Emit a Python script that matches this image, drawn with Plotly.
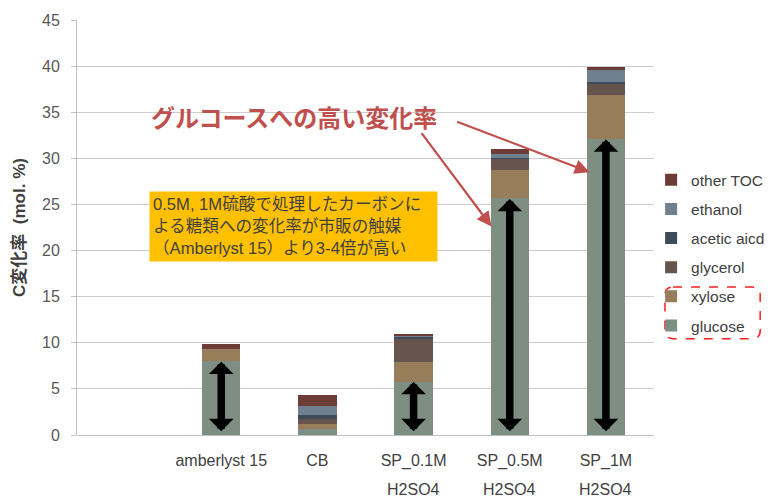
import plotly.graph_objects as go

# Categories (slot 0 is left empty on the axis)
categories = ["", "amberlyst 15", "CB", "SP_0.1M", "SP_0.5M", "SP_1M"]
second_line = ["", "", "", "H2SO4", "H2SO4", "H2SO4"]
positions = [1, 2, 3, 4, 5]

# Carbon conversion by product (mol. %)
glucose = [8.0, 0.65, 5.8, 25.65, 32.1]
xylose = [1.3, 0.5, 2.1, 3.05, 4.75]
glycerol = [0.0, 0.55, 2.6, 1.25, 1.3]
acetic_acid = [0.0, 0.45, 0.15, 0.1, 0.15]
ethanol = [0.0, 0.95, 0.17, 0.45, 1.3]
other_toc = [0.6, 1.28, 0.18, 0.5, 0.25]

series = [
    ("glucose", glucose, "#7F8E83"),
    ("xylose", xylose, "#977D5A"),
    ("glycerol", glycerol, "#65554D"),
    ("acetic aicd", acetic_acid, "#3E4B58"),
    ("ethanol", ethanol, "#718091"),
    ("other TOC", other_toc, "#6E3C37"),
]

font_family = "Liberation Sans, Arial, Noto Sans CJK JP, sans-serif"
cjk_family = "Noto Sans CJK JP, Liberation Sans, sans-serif"
mixed_family = "Liberation Sans, Noto Sans CJK JP, sans-serif"

fig = go.Figure()
n = len(series)
for i, (name, vals, color) in enumerate(series):
    fig.add_trace(go.Bar(
        x=positions, y=vals, name=name, legendgroup=name,
        legendrank=n - i,
        marker=dict(color=color, line=dict(width=0)),
        width=0.4,
    ))

# Double-headed arrows spanning the glucose part of selected bars
for idx in [0, 2, 3, 4]:
    fig.add_annotation(
        x=positions[idx], y=glucose[idx] - 0.05,
        ax=positions[idx], ay=0.25,
        xref="x", yref="y", axref="x", ayref="y",
        showarrow=True, arrowhead=1, startarrowhead=1,
        arrowside="end+start", arrowwidth=7.5, arrowsize=0.55, startarrowsize=0.55,
        arrowcolor="#000000", text="",
    )

# Red headline with two pointers
red = "#C0504D"
fig.add_annotation(
    x=1.76, y=34.5, xref="x", yref="y",
    text="<b>グルコースへの高い変化率</b>", showarrow=False,
    font=dict(family=cjk_family, size=24, color=red),
)
fig.add_annotation(
    x=3.81, y=22.6, xref="x", yref="y",
    ax=-71, ay=-95, showarrow=True,
    arrowhead=2, arrowwidth=2.2, arrowsize=1.35, arrowcolor=red, text="",
)
fig.add_annotation(
    x=4.83, y=28.5, xref="x", yref="y",
    ax=-134, ay=-51, showarrow=True,
    arrowhead=2, arrowwidth=2.2, arrowsize=1.35, arrowcolor=red, text="",
)

# Orange note box
fig.add_annotation(
    x=1.747, y=22.66, xref="x", yref="y",
    text="0.5M, 1M硫酸で処理したカーボンに<br>よる糖類への変化率が市販の触媒<br>（Amberlyst 15）より3-4倍が高い",
    showarrow=False, align="left", bgcolor="#FFC000",
    width=281, height=63, borderpad=3,
    font=dict(family=mixed_family, size=16.6, color="#404040"),
)

# Second line of the category labels
for i, txt in enumerate(second_line):
    if txt:
        fig.add_annotation(
            x=i, y=-0.1316, xref="x", yref="paper",
            text=txt, showarrow=False, yanchor="middle",
            font=dict(family=font_family, size=16, color="#404040"),
        )

# Dashed rounded frame around xylose / glucose legend entries
x0, x1 = 1.019, 1.184
y0, y1 = 10.44, 16.04
rx, ry = 0.014, 0.86
path = (
    f"M {x0+rx},{y1} L {x1-rx},{y1} Q {x1},{y1} {x1},{y1-ry} "
    f"L {x1},{y0+ry} Q {x1},{y0} {x1-rx},{y0} "
    f"L {x0+rx},{y0} Q {x0},{y0} {x0},{y0+ry} "
    f"L {x0},{y1-ry} Q {x0},{y1} {x0+rx},{y1} Z"
)
fig.add_shape(
    type="path", path=path, xref="paper", yref="y",
    line=dict(color="#FF2020", width=1.5, dash="dash"),
)

fig.update_layout(
    width=782, height=497,
    margin=dict(l=77, r=128, t=17, b=62),
    barmode="stack",
    plot_bgcolor="white", paper_bgcolor="white",
    font=dict(family=font_family, size=16, color="#404040"),
    showlegend=True,
    legend=dict(
        x=0.995, y=0.655, xanchor="left", yanchor="top",
        traceorder="grouped", tracegroupgap=6,
        font=dict(family=font_family, size=15.5, color="#404040"),
        bgcolor="rgba(0,0,0,0)", itemclick=False,
    ),
    xaxis=dict(
        range=[-0.5, 5.5],
        tickmode="array", tickvals=list(range(len(categories))), ticktext=categories,
        showgrid=False, showline=False, zeroline=False, ticks="",
        tickfont=dict(size=16, color="#404040"),
        ticklabelstandoff=14,
    ),
    yaxis=dict(
        range=[0, 45], dtick=5,
        showgrid=True, gridcolor="#CDCDCD", gridwidth=1,
        zeroline=True, zerolinecolor="#BFBFBF", zerolinewidth=1,
        showline=True, linecolor="#BFBFBF", linewidth=1,
        ticks="outside", ticklen=5, tickcolor="#BFBFBF",
        tickfont=dict(size=16, color="#595959"),
        ticklabelstandoff=8,
        title=dict(
            text="<b>C変化率\u00a0\u00a0(mol. %)</b>",
            font=dict(family=mixed_family, size=17, color="#404040"),
            standoff=12,
        ),
    ),
)

fig.write_html("out.html")
